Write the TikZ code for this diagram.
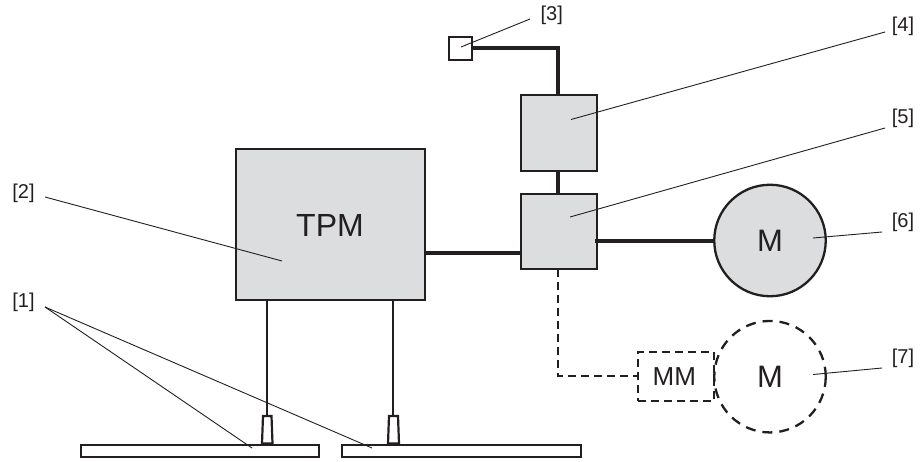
\documentclass[tikz,border=0pt]{standalone}
\usepackage{fontspec}
\setmainfont{Liberation Sans}
\definecolor{ink}{HTML}{231F20}
\definecolor{boxgrey}{HTML}{DCDDDE}
\tikzset{
  x=1pt,y=-1pt,
  unit/.style={draw=ink,line width=2.2pt,fill=boxgrey,rectangle,inner sep=0pt,anchor=north west},
  whitebox/.style={draw=ink,line width=2.2pt,fill=white,rectangle,inner sep=0pt,anchor=north west},
  motor/.style={draw=ink,line width=2.3pt,circle,inner sep=0pt,minimum size=111.5pt,font=\fontsize{31}{31}\selectfont,text=ink},
  cable/.style={draw=ink,line width=4pt},
  signal/.style={draw=ink,line width=2.2pt},
  dashline/.style={draw=ink,line width=1.9pt,dash pattern=on 8pt off 5pt},
  leader/.style={draw=ink,line width=0.9pt},
  lab/.style={font=\fontsize{20}{20}\selectfont,text=ink,inner sep=0pt}
}
\begin{document}
\begin{tikzpicture}
\useasboundingbox (0,0) rectangle (924,461);
\node[unit,minimum width=189pt,minimum height=151pt] (tpm) at (235,148) {};
\node[font=\fontsize{32}{32}\selectfont,text=ink] (tpmtext) at (330,225) {TPM};
\node[unit,minimum width=75.5pt,minimum height=75.5pt] (b4) at (520,94) {};
\node[unit,minimum width=75.5pt,minimum height=75pt] (b5) at (520,192.5) {};
\node[whitebox,minimum width=23.5pt,minimum height=23pt] (b3) at (447.5,36) {};
\node[motor,fill=boxgrey] (m6) at (770,240.5) {M};
\node[motor,dash pattern=on 10pt off 7pt] (m7) at (770,376.7) {M};
\node[draw=ink,line width=2pt,dash pattern=on 8pt off 5pt,rectangle,inner sep=0pt,anchor=north west,minimum width=76pt,minimum height=49pt] (mm) at (637,351) {};
\node[font=\fontsize{26}{26}\selectfont,text=ink] (mmtext) at (674.3,376.3) {MM};
\node[whitebox,minimum width=238pt,minimum height=12pt] (bar1) at (80,443.5) {};
\node[whitebox,minimum width=239pt,minimum height=12pt] (bar2) at (341,443.5) {};
\coordinate (c3) at (558.3,48);
\draw[cable] (b3.east |- c3) -- (c3) -- (b4.north -| c3);
\draw[cable] (b4.south -| c3) -- (b5.north -| c3);
\coordinate (c2l) at (426,252.7);
\coordinate (c2r) at (522,252.7);
\draw[cable] (c2l) -- (c2r);
\coordinate (c6) at (595,240.5);
\draw[cable] (c6) -- (m6.west);
\coordinate (c5a) at (558.3,269);
\coordinate (c5) at (558.3,376);
\draw[dashline] (c5a) -- (c5) -- (mm.west |- c5);
\coordinate (s1t) at (267,300);
\coordinate (s1b) at (267,416);
\coordinate (s2t) at (393,300);
\coordinate (s2b) at (393,416);
\draw[signal] (s1t) -- (s1b);
\draw[signal] (s2t) -- (s2b);
\draw[signal,fill=white] (263,416) -- (271.5,416) -- (272.5,443.5) -- (262,443.5) -- cycle;
\draw[signal,fill=white] (389,416) -- (398,416) -- (399,443.5) -- (388,443.5) -- cycle;
% leaders
\coordinate (l1) at (45,307);
\draw[leader] (l1) -- (252,448);
\draw[leader] (l1) -- (372,448);
\draw[leader] (45,197) -- (282,261);
\draw[leader] (530,19) -- (461,47);
\draw[leader] (885,32) -- (571,119.5);
\draw[leader] (885,128) -- (570,217);
\draw[leader] (882,232) -- (813,238);
\draw[leader] (882,368) -- (813,374.5);
% labels
\node[lab] (t1) at (23.5,302) {[1]};
\node[lab] (t2) at (23.5,193) {[2]};
\node[lab] (t3) at (551.7,15) {[3]};
\node[lab] (t4) at (903,26) {[4]};
\node[lab] (t5) at (903,118) {[5]};
\node[lab] (t6) at (903,222) {[6]};
\node[lab] (t7) at (903,358) {[7]};
\end{tikzpicture}
\end{document}
